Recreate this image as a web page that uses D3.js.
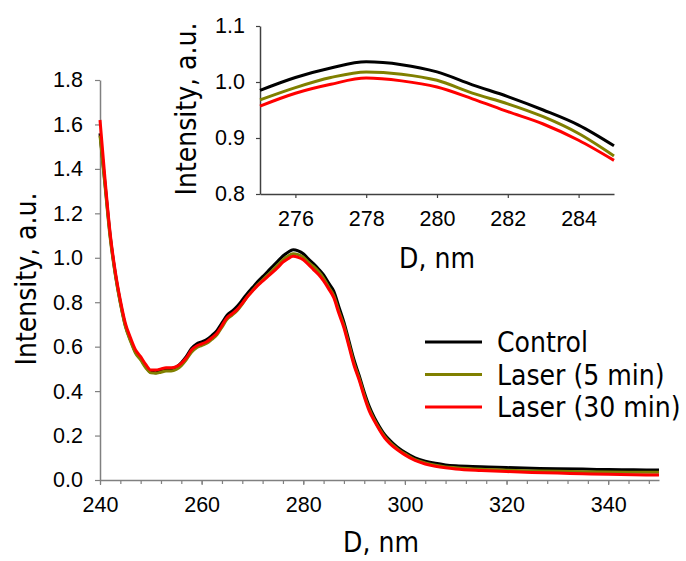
<!DOCTYPE html>
<html>
<head>
<meta charset="utf-8">
<script src="https://cdn.jsdelivr.net/npm/d3@7"></script>
<style>
  body { margin: 0; background: #fff; }
  svg { display: block; font-family: "DejaVu Sans Condensed", "DejaVu Sans", sans-serif; }
</style>
</head>
<body>
<svg id="chart" width="686" height="561"></svg>
<script>
// Wavelengths (nm)
const wavelengths = [240,241,242,243,244,245,246,247,248,249,250,251,252,253,254,255,256,257,258,259,
  260,261,262,263,264,265,266,267,268,269,270,271,272,273,274,275,276,277,278,279,
  280,281,282,283,284,285,286,287,288,289,290,291,292,293,294,295,296,297,298,299,
  300,302,304,306,308,310,315,320,325,330,335,340,345,350];

const control = [1.56,1.33,1.10,0.93,0.80,0.695,0.63,0.575,0.545,0.51,0.485,0.483,0.49,0.497,0.50,0.508,0.528,0.556,0.592,0.612,
  0.622,0.632,0.65,0.672,0.707,0.742,0.76,0.782,0.81,0.84,0.866,0.892,0.915,0.938,0.962,0.985,1.008,1.025,1.036,1.031,
  1.018,0.995,0.974,0.95,0.923,0.886,0.85,0.78,0.71,0.625,0.54,0.47,0.395,0.33,0.28,0.24,0.205,0.18,0.158,0.14,
  0.125,0.10,0.085,0.075,0.068,0.064,0.06,0.056,0.053,0.051,0.049,0.047,0.046,0.045];

const laser5 = [1.55,1.32,1.09,0.925,0.795,0.69,0.625,0.57,0.54,0.505,0.482,0.48,0.485,0.49,0.49,0.497,0.515,0.542,0.575,0.595,
  0.605,0.615,0.633,0.653,0.688,0.723,0.742,0.763,0.792,0.825,0.852,0.878,0.90,0.922,0.945,0.968,0.990,1.008,1.018,1.014,
  1.003,0.98,0.961,0.938,0.908,0.868,0.83,0.76,0.695,0.61,0.525,0.458,0.383,0.318,0.27,0.23,0.196,0.171,0.15,0.132,
  0.118,0.092,0.077,0.066,0.059,0.055,0.048,0.044,0.041,0.039,0.037,0.036,0.035,0.035];

const laser30 = [1.62,1.35,1.11,0.94,0.81,0.705,0.64,0.585,0.555,0.52,0.495,0.495,0.50,0.505,0.505,0.51,0.525,0.55,0.585,0.603,
  0.612,0.622,0.64,0.66,0.695,0.73,0.748,0.768,0.795,0.825,0.85,0.875,0.895,0.915,0.935,0.957,0.980,0.996,1.007,1.002,
  0.991,0.970,0.947,0.925,0.896,0.860,0.82,0.75,0.685,0.60,0.515,0.45,0.375,0.31,0.265,0.225,0.19,0.165,0.145,0.128,
  0.113,0.088,0.072,0.062,0.055,0.050,0.043,0.038,0.034,0.031,0.028,0.026,0.024,0.022];

const seriesNames = ["Control", "Laser (5 min)", "Laser (30 min)"];
const seriesColors = ["#000000", "#808000", "#ff0000"];
const seriesValues = [control, laser5, laser30];

const mainXTicks = [240, 260, 280, 300, 320, 340];
const mainYTicks = [0, 0.2, 0.4, 0.6, 0.8, 1.0, 1.2, 1.4, 1.6, 1.8];
const insetXTicks = [276, 278, 280, 282, 284];
const insetYTicks = [0.8, 0.9, 1.0, 1.1];

const svg = d3.select("#chart");

// Main chart scales
const x = d3.scaleLinear().domain([240, 350]).range([100, 659]);
const y = d3.scaleLinear().domain([0, 1.8]).range([480, 80]);

// Inset scales
const xi = d3.scaleLinear().domain([275, 285]).range([260, 614]);
const yi = d3.scaleLinear().domain([0.8, 1.1]).range([194, 26]);

function styleAxis(g, color) {
  g.select(".domain").attr("stroke", color).attr("stroke-width", 1.5);
  g.selectAll(".tick line").attr("stroke", color).attr("stroke-width", 1.2);
  g.selectAll("text").attr("fill", "#000").style("font-size", "21.5px");
}

// Main x minor ticks (every 4 nm)
svg.append("g")
  .attr("transform", "translate(0,480)")
  .call(d3.axisBottom(x).tickValues(d3.range(240, 351, 4)).tickSize(4).tickFormat(""))
  .call(g => { g.select(".domain").remove(); g.selectAll("line").attr("stroke", "#808080").attr("stroke-width", 1.2); });

svg.append("g")
  .attr("transform", "translate(0,480)")
  .call(d3.axisBottom(x).tickValues(mainXTicks).tickSize(5).tickSizeOuter(0).tickPadding(12).tickFormat(d3.format("d")))
  .call(g => styleAxis(g, "#808080"));

svg.append("g")
  .attr("transform", "translate(100,0)")
  .call(d3.axisLeft(y).tickValues(mainYTicks).tickSize(5).tickSizeOuter(0).tickPadding(12).tickFormat(d3.format(".1f")))
  .call(g => styleAxis(g, "#808080"));

// Main lines
const line = d3.line()
  .x((d, i) => x(wavelengths[i]))
  .y(d => y(d))
  .curve(d3.curveMonotoneX);

seriesValues.forEach((vals, k) => {
  svg.append("path")
    .datum(vals)
    .attr("fill", "none")
    .attr("stroke", seriesColors[k])
    .attr("stroke-width", 3)
    .attr("stroke-linejoin", "round")
    .attr("d", line);
});

// Axis titles (main)
svg.append("text")
  .attr("x", 381).attr("y", 552)
  .attr("text-anchor", "middle")
  .style("font-size", "28px")
  .text("D, nm");

svg.append("text")
  .attr("transform", "translate(36,279) rotate(-90)")
  .attr("text-anchor", "middle")
  .style("font-size", "28px")
  .text("Intensity, a.u.");

// Inset
svg.append("g")
  .attr("transform", "translate(0,194)")
  .call(d3.axisBottom(xi).tickValues(insetXTicks).tickSize(4).tickSizeOuter(0).tickPadding(13).tickFormat(d3.format("d")))
  .call(g => styleAxis(g, "#404040"));

svg.append("g")
  .attr("transform", "translate(260,0)")
  .call(d3.axisLeft(yi).tickValues(insetYTicks).tickSize(4).tickSizeOuter(0).tickPadding(11).tickFormat(d3.format(".1f")))
  .call(g => styleAxis(g, "#404040"));

const insetIdx = wavelengths.map((w, i) => i).filter(i => wavelengths[i] >= 275 && wavelengths[i] <= 285);
const insetLine = d3.line()
  .x(i => xi(wavelengths[i]))
  .curve(d3.curveMonotoneX);

seriesValues.forEach((vals, k) => {
  svg.append("path")
    .datum(insetIdx)
    .attr("fill", "none")
    .attr("stroke", seriesColors[k])
    .attr("stroke-width", 3)
    .attr("d", insetLine.y(i => yi(vals[i])));
});

svg.append("text")
  .attr("x", 437).attr("y", 268)
  .attr("text-anchor", "middle")
  .style("font-size", "28px")
  .text("D, nm");

svg.append("text")
  .attr("transform", "translate(196,109) rotate(-90)")
  .attr("text-anchor", "middle")
  .style("font-size", "28px")
  .text("Intensity, a.u.");

// Legend
const legend = svg.append("g");
seriesNames.forEach((name, k) => {
  const ly = 342 + k * 32.5;
  legend.append("line")
    .attr("x1", 425).attr("x2", 482)
    .attr("y1", ly).attr("y2", ly)
    .attr("stroke", seriesColors[k])
    .attr("stroke-width", 3);
  legend.append("text")
    .attr("x", 497).attr("y", ly)
    .attr("dy", "0.36em")
    .style("font-size", "28px")
    .text(name);
});
</script>
</body>
</html>
